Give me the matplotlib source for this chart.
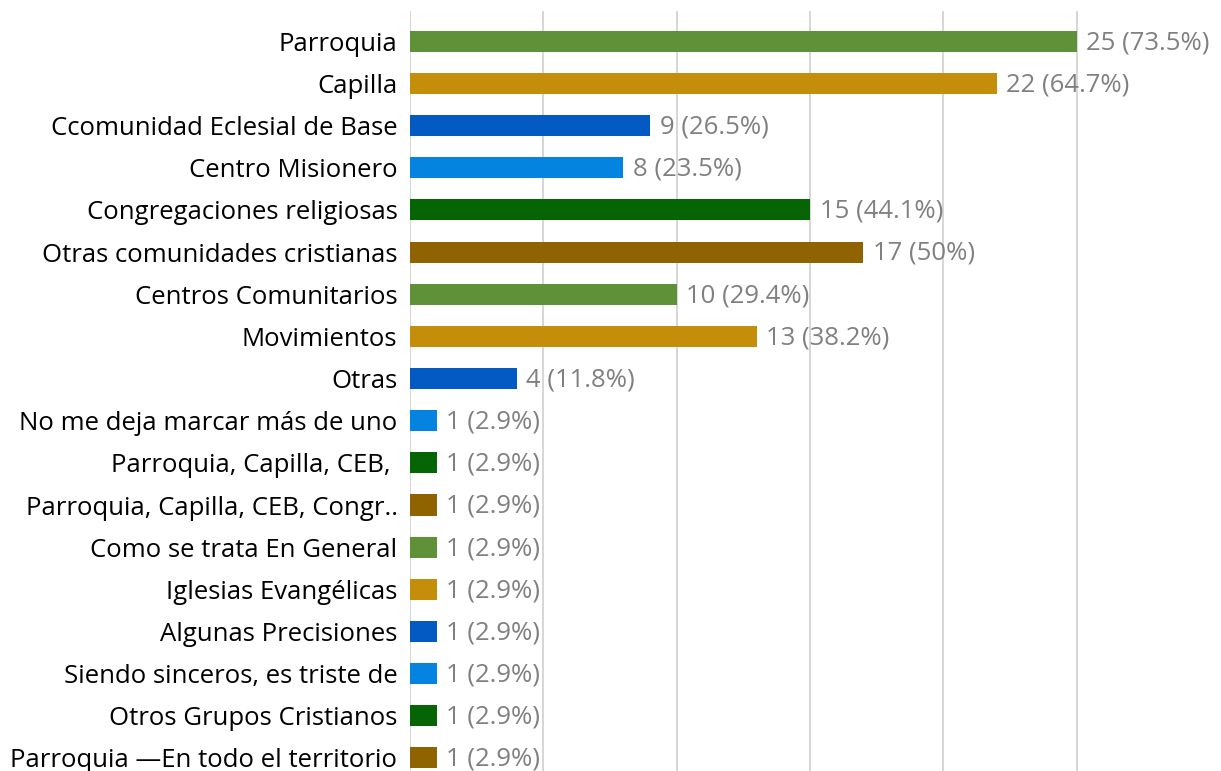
import matplotlib
matplotlib.use("Agg")
import matplotlib.pyplot as plt

# categories (top to bottom) and counts
categories = [
    "Parroquia",
    "Capilla",
    "Ccomunidad Eclesial de Base",
    "Centro Misionero",
    "Congregaciones religiosas",
    "Otras comunidades cristianas",
    "Centros Comunitarios",
    "Movimientos",
    "Otras",
    "No me deja marcar más de uno",
    "Parroquia, Capilla, CEB, ",
    "Parroquia, Capilla, CEB, Congr..",
    "Como se trata En General",
    "Iglesias Evangélicas",
    "Algunas Precisiones",
    "Siendo sinceros, es triste de",
    "Otros Grupos Cristianos",
    "Parroquia —En todo el territorio",
]
counts = [25, 22, 9, 8, 15, 17, 10, 13, 4, 1, 1, 1, 1, 1, 1, 1, 1, 1]
percents = ["73.5", "64.7", "26.5", "23.5", "44.1", "50", "29.4", "38.2", "11.8",
            "2.9", "2.9", "2.9", "2.9", "2.9", "2.9", "2.9", "2.9", "2.9"]

palette = ["#5f9138", "#c48e0a", "#035ac3", "#0483e0", "#056505", "#8f6400"]

plt.rcParams['font.family'] = ['Open Sans', 'DejaVu Sans']

fig = plt.figure(figsize=(12.21, 7.71), dpi=100)
ax = fig.add_axes([410 / 1221, 0.0, (1210 - 410) / 1221, 1 - 11 / 771])

y = list(range(len(categories)))
colors = [palette[i % len(palette)] for i in y]
ax.barh(y, counts, height=0.5, color=colors, zorder=2)

ax.set_xlim(0, 30)
ax.set_ylim(17.31, -0.72)
ax.set_xticks([0, 5, 10, 15, 20, 25])
ax.set_xticklabels([])
ax.tick_params(axis='x', length=0)
ax.tick_params(axis='y', length=0, pad=9, labelsize=18.5)
ax.set_yticks(y)
ax.set_yticklabels(categories)
ax.grid(axis='x', color='#d0d0d0', linewidth=1.2, zorder=0)
for s in ax.spines.values():
    s.set_visible(False)

for i, (c, p) in enumerate(zip(counts, percents)):
    ax.annotate(f"{c} ({p}%)", xy=(c, i), xytext=(7, -1), textcoords='offset points',
                va='center', ha='left', fontsize=18.5, color='#808080', zorder=3,
                annotation_clip=False)

fig.savefig("out.png", dpi=100)
